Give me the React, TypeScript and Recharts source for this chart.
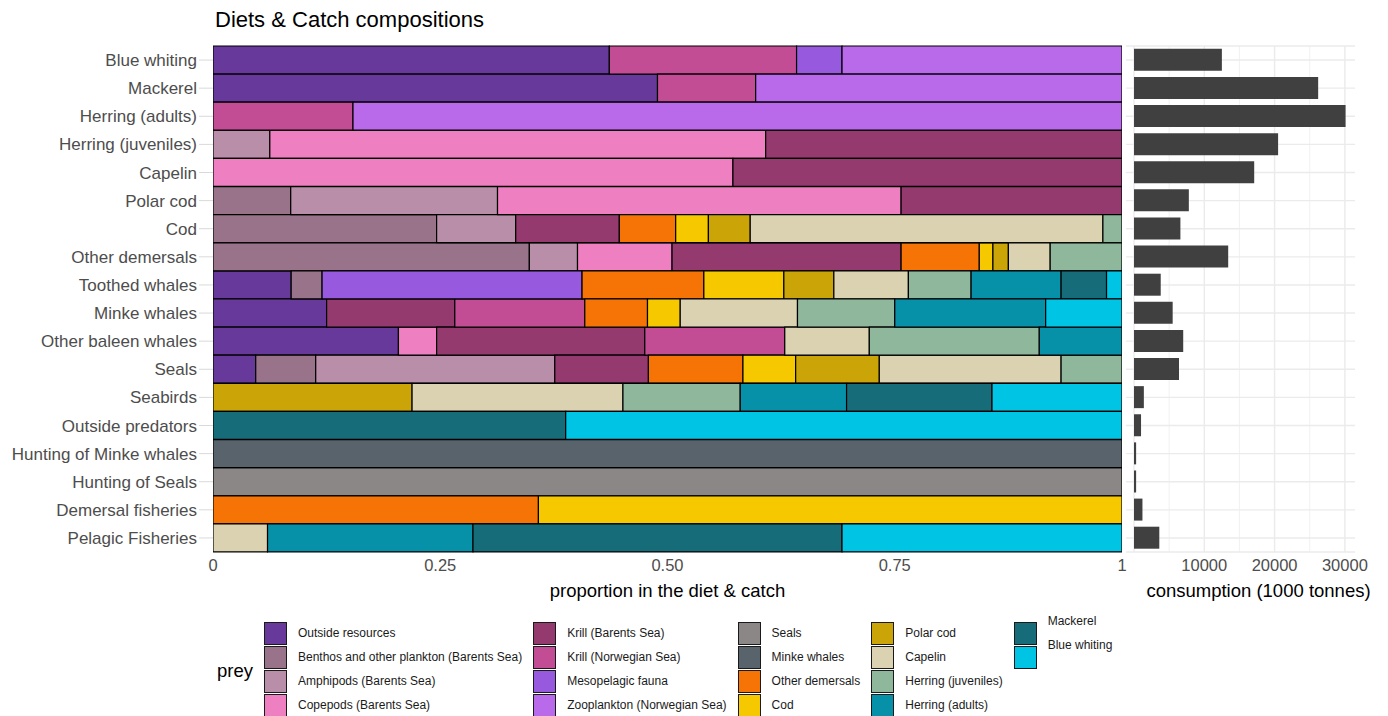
import React from 'react';
import { BarChart, Bar, XAxis, YAxis, CartesianGrid } from 'recharts';

// Predators / fisheries, top to bottom
const predators = [
  'Blue whiting',
  'Mackerel',
  'Herring (adults)',
  'Herring (juveniles)',
  'Capelin',
  'Polar cod',
  'Cod',
  'Other demersals',
  'Toothed whales',
  'Minke whales',
  'Other baleen whales',
  'Seals',
  'Seabirds',
  'Outside predators',
  'Hunting of Minke whales',
  'Hunting of Seals',
  'Demersal fisheries',
  'Pelagic Fisheries',
];

// Prey groups in stacking order (left to right)
const preyNames = [
  'Outside resources',
  'Benthos and other plankton (Barents Sea)',
  'Amphipods (Barents Sea)',
  'Copepods (Barents Sea)',
  'Krill (Barents Sea)',
  'Krill (Norwegian Sea)',
  'Mesopelagic fauna',
  'Zooplankton (Norwegian Sea)',
  'Seals',
  'Minke whales',
  'Other demersals',
  'Cod',
  'Polar cod',
  'Capelin',
  'Herring (juveniles)',
  'Herring (adults)',
  'Mackerel',
  'Blue whiting',
];

const preyColors = [
  '#66399a',
  '#997389',
  '#b98ea8',
  '#ee7fc1',
  '#943a6f',
  '#c24d94',
  '#975ade',
  '#b96aea',
  '#8b8786',
  '#59636c',
  '#f57405',
  '#f5c800',
  '#cba508',
  '#dbd2b1',
  '#8fb79b',
  '#0791a8',
  '#176c7a',
  '#00c4e4',
];

// Diet / catch proportions per prey, in predator order
const outsideResources = [0.436, 0.489, 0, 0, 0, 0, 0, 0, 0.086, 0.125, 0.204, 0.047, 0, 0, 0, 0, 0, 0];
const benthos = [0, 0, 0, 0, 0, 0.0855, 0.246, 0.348, 0.034, 0, 0, 0.066, 0, 0, 0, 0, 0, 0];
const amphipods = [0, 0, 0, 0.0625, 0, 0.2275, 0.087, 0.053, 0, 0, 0, 0.263, 0, 0, 0, 0, 0, 0];
const copepods = [0, 0, 0, 0.5455, 0.572, 0.444, 0, 0.104, 0, 0, 0.042, 0, 0, 0, 0, 0, 0, 0];
const krillBarents = [0, 0, 0, 0.392, 0.428, 0.243, 0.114, 0.252, 0, 0.141, 0.229, 0.103, 0, 0, 0, 0, 0, 0];
const krillNorwegian = [0.206, 0.108, 0.154, 0, 0, 0, 0, 0, 0, 0.143, 0.154, 0, 0, 0, 0, 0, 0, 0];
const mesopelagic = [0.05, 0, 0, 0, 0, 0, 0, 0, 0.286, 0, 0, 0, 0, 0, 0, 0, 0, 0];
const zooplankton = [0.308, 0.403, 0.846, 0, 0, 0, 0, 0, 0, 0, 0, 0, 0, 0, 0, 0, 0, 0];
const seals = [0, 0, 0, 0, 0, 0, 0, 0, 0, 0, 0, 0, 0, 0, 0, 1, 0, 0];
const minkeWhales = [0, 0, 0, 0, 0, 0, 0, 0, 0, 0, 0, 0, 0, 0, 1, 0, 0, 0];
const otherDemersals = [0, 0, 0, 0, 0, 0, 0.062, 0.086, 0.134, 0.069, 0, 0.104, 0, 0, 0, 0, 0.358, 0];
const cod = [0, 0, 0, 0, 0, 0, 0.036, 0.015, 0.088, 0.036, 0, 0.058, 0, 0, 0, 0, 0.642, 0];
const polarCod = [0, 0, 0, 0, 0, 0, 0.046, 0.017, 0.055, 0, 0, 0.092, 0.219, 0, 0, 0, 0, 0];
const capelin = [0, 0, 0, 0, 0, 0, 0.388, 0.046, 0.082, 0.129, 0.093, 0.2, 0.232, 0, 0, 0, 0, 0.06];
const herringJuveniles = [0, 0, 0, 0, 0, 0, 0.021, 0.079, 0.069, 0.107, 0.187, 0.067, 0.129, 0, 0, 0, 0, 0];
const herringAdults = [0, 0, 0, 0, 0, 0, 0, 0, 0.099, 0.166, 0.091, 0, 0.117, 0, 0, 0, 0, 0.226];
const mackerel = [0, 0, 0, 0, 0, 0, 0, 0, 0.05, 0, 0, 0, 0.16, 0.388, 0, 0, 0, 0.406];
const blueWhiting = [0, 0, 0, 0, 0, 0, 0, 0, 0.017, 0.084, 0, 0, 0.143, 0.612, 0, 0, 0, 0.308];

// Total consumption / catch per predator (1000 tonnes)
const consumption = [12500, 26200, 30100, 20500, 17100, 7800, 6600, 13400, 3800, 5500, 7000, 6400, 1400, 1000, 300, 300, 1200, 3600];

const proportionTicks = [0, 0.25, 0.5, 0.75, 1];
const proportionTickLabels = ['0', '0.25', '0.50', '0.75', '1'];
const consumptionTicks = [10000, 20000, 30000];
const consumptionMajorGrid = [0, 10000, 20000, 30000];
const consumptionMinorGrid = [5000, 15000, 25000];

const preySeries = [
  outsideResources, benthos, amphipods, copepods, krillBarents, krillNorwegian,
  mesopelagic, zooplankton, seals, minkeWhales, otherDemersals, cod, polarCod,
  capelin, herringJuveniles, herringAdults, mackerel, blueWhiting,
];

const dietRows = predators.map((name, i) => {
  const row: Record<string, string | number> = { name };
  preySeries.forEach((series, j) => {
    row[`p${j}`] = series[i];
  });
  return row;
});

const consumptionRows = predators.map((name, i) => ({ name, consumption: consumption[i] }));

const FONT = '"Liberation Sans", Arial, Helvetica, sans-serif';
const TICK_GREY = '#4d4d4d';
const GRID = '#ebebeb';

function PreyLegend() {
  const columns: number[][] = [];
  for (let i = 0; i < preyNames.length; i += 4) {
    columns.push(preyNames.slice(i, i + 4).map((_, k) => i + k));
  }
  return (
    <div style={{ position: 'absolute', left: 217, top: 621, display: 'flex', fontFamily: FONT }}>
      <div style={{ width: 47, fontSize: 18.5, color: '#000', alignSelf: 'center', marginTop: 4 }}>prey</div>
      {columns.map((col, ci) => (
        <div key={ci} style={{ display: 'flex', flexDirection: 'column', marginRight: 11 }}>
          {col.map((idx) => (
            <div key={idx} style={{ display: 'flex', alignItems: 'center', height: 24 }}>
              <div
                style={{
                  width: 23,
                  height: 23,
                  boxSizing: 'border-box',
                  background: preyColors[idx],
                  border: '1.5px solid #1a1a1a',
                  flex: 'none',
                }}
              />
              <div
                style={{
                  marginLeft: 11,
                  fontSize: 12,
                  color: '#1a1a1a',
                  whiteSpace: 'nowrap',
                  transform: ci === columns.length - 1 ? 'translateY(-12px)' : undefined,
                }}
              >
                {preyNames[idx]}
              </div>
            </div>
          ))}
        </div>
      ))}
    </div>
  );
}

export default function App() {
  return (
    <div
      style={{
        position: 'absolute',
        left: 0,
        top: 0,
        width: 1388,
        height: 716,
        background: '#fff',
        fontFamily: FONT,
        overflow: 'hidden',
      }}
    >
      <div style={{ position: 'absolute', left: 215, top: 9, fontSize: 22, lineHeight: 1, color: '#000' }}>
        Diets &amp; Catch compositions
      </div>

      {/* Diet and catch composition, stacked proportions */}
      <div style={{ position: 'absolute', left: 0, top: 0 }}>
        <BarChart
          width={1130}
          height={610}
          data={dietRows}
          layout="vertical"
          margin={{ top: 46, right: 8, bottom: 0, left: 0 }}
          barCategoryGap={0}
        >
          <XAxis
            type="number"
            domain={[0, 1]}
            ticks={proportionTicks}
            allowDataOverflow
            tickFormatter={(v: number) => proportionTickLabels[proportionTicks.indexOf(v)] ?? String(v)}
            axisLine={false}
            tickLine={false}
            tickSize={6}
            tickMargin={1}
            height={58}
            tick={{ fill: TICK_GREY, fontSize: 16.5, fontFamily: FONT }}
            label={{
              value: 'proportion in the diet & catch',
              position: 'insideBottom',
              offset: 13,
              fill: '#000',
              fontSize: 18.5,
              fontFamily: FONT,
            }}
          />
          <YAxis
            type="category"
            dataKey="name"
            width={213}
            axisLine={false}
            tickLine={{ stroke: '#d9d9d9' }}
            tickSize={14}
            tickMargin={2}
            interval={0}
            tick={{ fill: TICK_GREY, fontSize: 17, fontFamily: FONT }}
          />
          {preyNames.map((p, j) => (
            <Bar
              key={p}
              dataKey={`p${j}`}
              name={p}
              stackId="diet"
              fill={preyColors[j]}
              stroke="#000"
              strokeWidth={1.2}
              isAnimationActive={false}
            />
          ))}
        </BarChart>
      </div>

      {/* Total consumption per predator */}
      <div style={{ position: 'absolute', left: 1120, top: 0 }}>
        <BarChart
          width={268}
          height={610}
          data={consumptionRows}
          layout="vertical"
          margin={{ top: 46, right: 33, bottom: 0, left: 6 }}
          barCategoryGap="10%"
        >
          <CartesianGrid
            stroke={GRID}
            strokeWidth={0.7}
            horizontal={false}
            vertical
            verticalValues={consumptionMinorGrid}
          />
          <CartesianGrid
            stroke={GRID}
            strokeWidth={1.4}
            horizontal
            vertical
            verticalValues={consumptionMajorGrid}
          />
          <XAxis
            type="number"
            domain={[-1140, 31440]}
            ticks={consumptionTicks}
            allowDataOverflow
            axisLine={false}
            tickLine={false}
            tickSize={6}
            tickMargin={1}
            height={58}
            tick={{ fill: TICK_GREY, fontSize: 16.5, fontFamily: FONT }}
            label={{
              value: 'consumption (1000 tonnes)',
              position: 'insideBottom',
              offset: 13,
              dx: 18,
              fill: '#000',
              fontSize: 18.5,
              fontFamily: FONT,
            }}
          />
          <YAxis type="category" dataKey="name" hide interval={0} />
          <Bar dataKey="consumption" fill="#404040" isAnimationActive={false} />
        </BarChart>
      </div>

      <PreyLegend />
    </div>
  );
}
